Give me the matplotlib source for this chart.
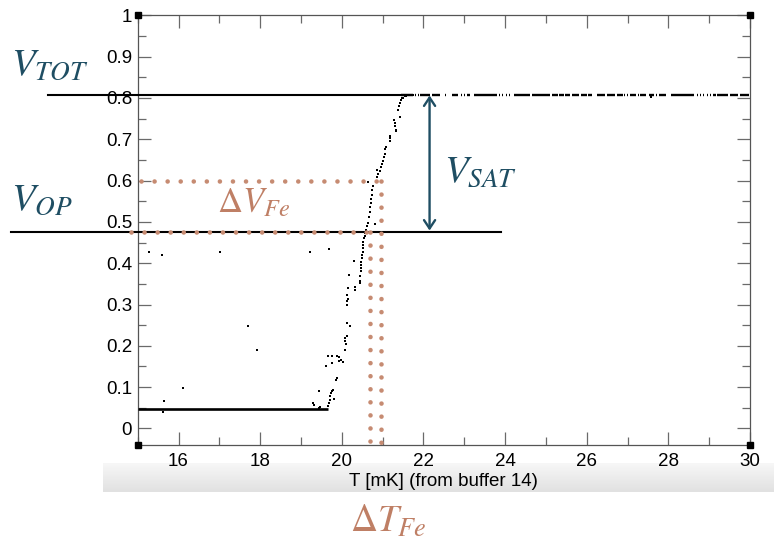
import matplotlib
matplotlib.use("Agg")
import matplotlib.pyplot as plt
import numpy as np
from matplotlib.ticker import MultipleLocator, FuncFormatter
from matplotlib.colors import LinearSegmentedColormap

plt.rcParams['mathtext.fontset'] = 'stix'
plt.rcParams['font.family'] = ['Liberation Sans', 'DejaVu Sans']

# ---- data -------------------------------------------------------------
low_plateau_T = [15.0, 19.65]
low_plateau_V = 0.047

high_plateau_V = 0.807
high_seg_start = [21.45, 21.79, 21.86, 21.91, 22.20, 22.47, 22.53, 22.69, 22.92, 22.99,
                  23.06, 23.25, 23.86, 23.92, 24.03, 24.10, 24.23, 24.67, 25.14, 25.33,
                  25.48, 25.63, 25.85, 26.04, 26.24, 26.50, 26.74, 26.92, 26.98, 27.05,
                  27.25, 27.31, 27.53, 27.70, 27.76, 28.07, 28.70, 28.78, 28.86, 28.94,
                  29.02, 29.10, 29.19, 29.50, 29.75]
high_seg_end = [21.74, 21.81, 21.88, 22.15, 22.40, 22.49, 22.55, 22.84, 22.94, 23.01,
                23.13, 23.79, 23.88, 23.94, 24.05, 24.12, 24.60, 25.09, 25.30, 25.45,
                25.58, 25.80, 26.00, 26.14, 26.45, 26.70, 26.88, 26.94, 27.00, 27.20,
                27.27, 27.46, 27.65, 27.72, 27.95, 28.63, 28.72, 28.80, 28.88, 28.96,
                29.04, 29.17, 29.45, 29.70, 29.97]

transition_T = [19.30, 19.31, 19.44, 19.45, 19.47, 19.65, 19.68, 19.70, 19.72, 19.74,
                19.76, 19.78, 19.80, 19.61, 19.65, 19.75, 19.76, 19.88, 19.92, 19.93,
                19.97, 20.02, 19.87, 19.88, 20.08, 20.10, 20.09, 20.08, 20.12, 20.12,
                20.21, 20.12, 20.13, 20.14, 20.13, 20.15, 20.32, 20.32, 20.18, 20.30,
                20.44, 20.45, 20.44, 20.46, 20.47, 20.47, 20.48, 20.49, 20.50, 20.51,
                20.52, 20.53, 20.52, 20.55, 20.56, 20.58, 20.60, 20.62, 20.63, 20.81,
                20.67, 20.68, 20.70, 20.71, 20.72, 20.74, 20.75, 20.77, 20.64, 20.87,
                20.88, 20.87, 20.93, 20.97, 20.99, 21.02, 21.03, 21.06, 21.07, 21.08,
                21.17, 21.18, 21.19, 21.28, 21.30, 21.31, 21.32, 21.33, 21.42, 21.38,
                21.40, 21.43, 21.46, 21.48, 21.51, 21.54, 21.58, 21.62]
transition_V = [0.061, 0.057, 0.090, 0.050, 0.052, 0.055, 0.062, 0.070, 0.078, 0.085,
                0.090, 0.094, 0.072, 0.150, 0.176, 0.176, 0.158, 0.176, 0.172, 0.163,
                0.165, 0.160, 0.118, 0.122, 0.190, 0.205, 0.212, 0.220, 0.225, 0.256,
                0.247, 0.300, 0.308, 0.313, 0.322, 0.340, 0.342, 0.336, 0.371, 0.405,
                0.352, 0.357, 0.370, 0.380, 0.388, 0.396, 0.404, 0.412, 0.420, 0.428,
                0.436, 0.444, 0.452, 0.460, 0.466, 0.472, 0.480, 0.490, 0.498, 0.494,
                0.513, 0.525, 0.535, 0.546, 0.556, 0.566, 0.578, 0.586, 0.596, 0.609,
                0.616, 0.626, 0.622, 0.633, 0.640, 0.648, 0.656, 0.664, 0.676, 0.682,
                0.695, 0.703, 0.709, 0.747, 0.739, 0.731, 0.723, 0.719, 0.755, 0.771,
                0.780, 0.788, 0.794, 0.799, 0.801, 0.804, 0.805, 0.806]

outlier_T = [15.28, 15.60, 17.01, 19.22, 19.69, 17.69, 17.93, 16.10, 15.64, 15.62, 27.58]
outlier_V = [0.426, 0.419, 0.426, 0.426, 0.435, 0.249, 0.189, 0.0985, 0.067, 0.040, 0.802]

# annotation levels
V_TOT = 0.808
V_OP = 0.475
V_FE = 0.600
T_OP = 20.70
T_FE = 20.97
T_ARROW = 22.15

# ---- figure -----------------------------------------------------------
W, H = 774, 542
fig = plt.figure(figsize=(W / 100, H / 100), dpi=100)

# shaded band behind the x-axis title
band = fig.add_axes([102.7 / W, 1 - 492 / H, (W - 102.7) / W, 29 / H], zorder=0)
cmap = LinearSegmentedColormap.from_list('band', ['#F7F7F7', '#E1E1E1'])
band.imshow(np.linspace(0, 1, 64).reshape(-1, 1), aspect='auto', cmap=cmap)
band.axis('off')

ax = fig.add_axes([137.7 / W, 1 - 445 / H, (750 - 137.7) / W, (445 - 15.3) / H], zorder=1)
ax.set_xlim(15, 30)
ax.set_ylim(-0.04, 1.0)

frame_c = '#555555'
for s in ax.spines.values():
    s.set_color(frame_c)
    s.set_linewidth(0.9)

ax.xaxis.set_major_locator(MultipleLocator(2))
ax.xaxis.set_minor_locator(MultipleLocator(1))
ax.yaxis.set_major_locator(MultipleLocator(0.1))
ax.yaxis.set_minor_locator(MultipleLocator(0.05))
ax.yaxis.set_major_formatter(FuncFormatter(lambda v, p: f"{round(v, 3):g}"))
ax.xaxis.set_major_formatter(FuncFormatter(lambda v, p: f"{v:g}"))
ax.tick_params(which='both', direction='in', top=True, right=True, color='#6a6a6a', width=0.9)
ax.tick_params(which='major', length=9.5)
ax.tick_params(which='minor', length=5.5)
ax.tick_params(axis='x', which='major', labelsize=13.5, pad=5.5)
ax.tick_params(axis='y', which='major', labelsize=13.5, pad=4)

# corner markers
for cx in (15, 30):
    for cy in (-0.04, 1.0):
        ax.plot([cx], [cy], marker='s', ms=3.8, color='black', clip_on=False, zorder=6)

# measured data
ax.plot(low_plateau_T, [low_plateau_V] * 2, color='black', lw=1.9, solid_capstyle='butt', zorder=3)
ax.hlines([high_plateau_V] * len(high_seg_start), high_seg_start, high_seg_end,
          color='black', lw=1.7, zorder=3)
ax.plot(transition_T, transition_V, ls='none', marker='s', ms=1.8, mew=0, color='black', zorder=3)
ax.plot(outlier_T, outlier_V, ls='none', marker='s', ms=2.0, mew=0, color='black', zorder=3)

# reference levels
ax.plot([12.80, 21.74], [V_TOT, V_TOT], color='black', lw=1.5, clip_on=False, zorder=4)
ax.plot([11.89, 23.89], [V_OP, V_OP], color='black', lw=1.5, clip_on=False, zorder=4)

dot_c = '#C68B72'
dot_style = dict(color=dot_c, lw=3.3, ls=(0, (0.01, 2.84)), dash_capstyle='round',
                 clip_on=False, zorder=5)
ax.plot([15.08, T_FE], [V_FE, V_FE], **dot_style)
ax.plot([T_FE, T_FE], [V_FE, -0.056], **dot_style)
ax.plot([14.84, T_OP], [V_OP, V_OP], **dot_style)
ax.plot([T_OP, T_OP], [V_OP, -0.056], **dot_style)

teal = '#1F4E63'
ax.annotate('', xy=(T_ARROW, 0.806), xytext=(T_ARROW, 0.479),
            arrowprops=dict(arrowstyle='<->,head_length=0.6,head_width=0.4',
                            color=teal, lw=1.7, shrinkA=0, shrinkB=0), zorder=5)

def fpx(x, y):
    return x / W, 1 - y / H

fig.text(*fpx(11, 75), r'$V_{TOT}$', fontsize=28, color=teal, va='baseline', ha='left')
fig.text(*fpx(11, 210), r'$V_{OP}$', fontsize=28, color=teal, va='baseline', ha='left')
fig.text(*fpx(444, 182), r'$V_{SAT}$', fontsize=28, color=teal, va='baseline', ha='left')
fig.text(*fpx(217, 212), r'$\Delta V_{Fe}$', fontsize=25, color='#BF7F65', va='baseline', ha='left')
fig.text(*fpx(350, 532), r'$\Delta T_{Fe}$', fontsize=27, color='#BF7F65', va='baseline', ha='left')

fig.text(*fpx(443.8, 481), 'T [mK] (from buffer 14)', fontsize=13.5, ha='center', va='center', zorder=4)

fig.savefig('out.png', dpi=100)
